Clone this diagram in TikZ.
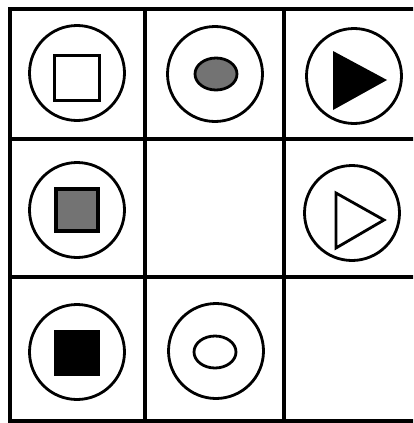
\documentclass[tikz,border=0pt]{standalone}
\usepackage{tikz}
\usetikzlibrary{shapes.geometric, positioning, calc}

\begin{document}
\begin{tikzpicture}[
        x=1pt, y=-1pt,
        grid/.style={line width=3.2pt},
        ring/.style={draw, circle, line width=2.8pt, minimum size=95pt, inner sep=0pt},
        box/.style={draw, rectangle, line width=3.2pt, inner sep=0pt},
        egg/.style={draw, ellipse, line width=2.8pt, minimum width=42pt, minimum height=32pt, inner sep=0pt}
    ]
        \useasboundingbox (0,0) rectangle (413,423);
        \clip (0,0) rectangle (413,423);

        % Raster 3x3
        \draw[grid] (10,9) rectangle (420,421);
        \draw[grid] (145,9) -- (145,421);
        \draw[grid] (284,9) -- (284,421);
        \draw[grid] (10,139) -- (420,139);
        \draw[grid] (10,277) -- (420,277);

        % Rij 1
        \node[ring] (r1c1) at (77,73) {};
        \node[box, minimum size=45pt] (sq1) at (77,78) {};
        \node[ring] (r1c2) at (215,74) {};
        \node[egg, fill=black!55] (el1) at (216,74) {};
        \node[ring] (r1c3) at (354,76) {};
        \fill (333,51) -- (387,80) -- (333,110) -- cycle;

        % Rij 2
        \node[ring] (r2c1) at (77,210) {};
        \node[box, minimum size=42pt, fill=black!55] (sq2) at (77,210) {};
        \node[ring] (r2c3) at (352,213) {};
        \draw[line width=2.8pt, line join=miter] (336,193) -- (384,220) -- (336,248) -- cycle;

        % Rij 3
        \node[ring] (r3c1) at (77,352) {};
        \node[box, minimum size=43pt, fill=black] (sq3) at (77,353) {};
        \node[ring] (r3c2) at (216,351) {};
        \node[egg] (el2) at (215,352) {};
    \end{tikzpicture}
\end{document}
